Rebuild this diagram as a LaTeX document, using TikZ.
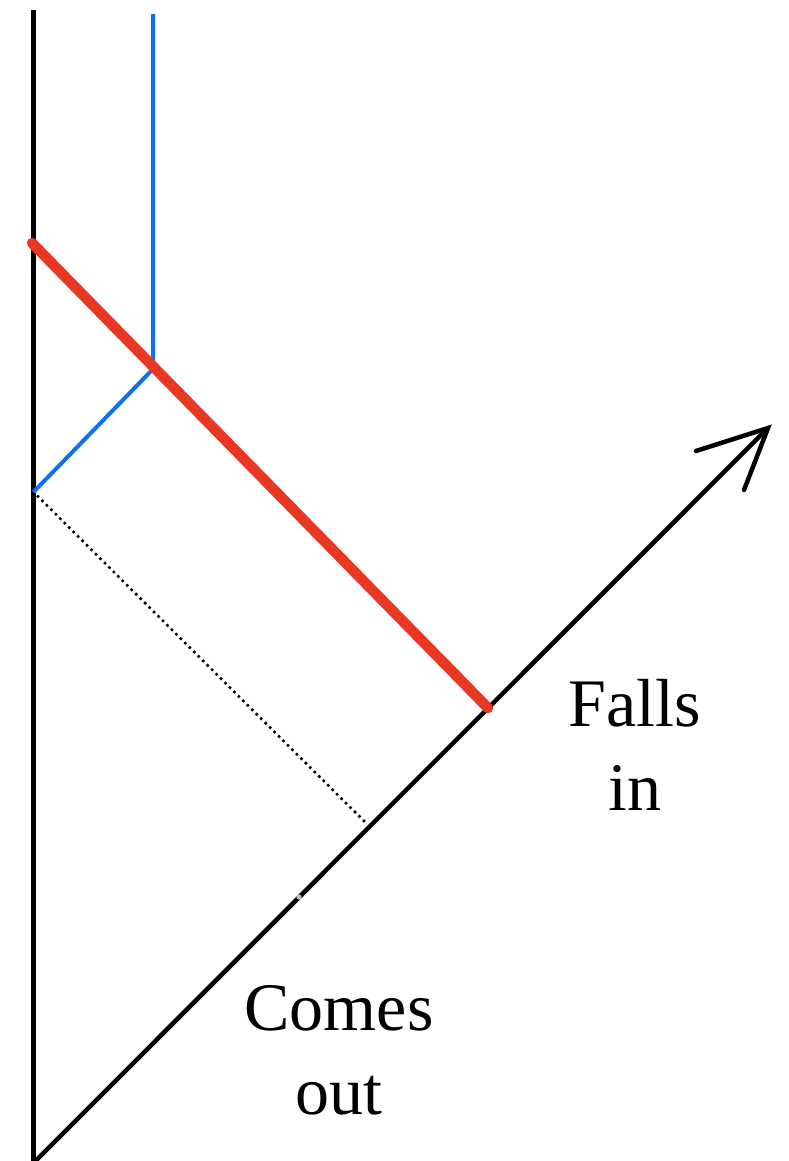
\documentclass[tikz,border=0pt]{standalone}
\usepackage{fontspec}
\setmainfont{Liberation Serif}
\begin{document}
\begin{tikzpicture}[x=1pt,y=-1pt,
  axis/.style={line width=4.5pt,black},
  redline/.style={line width=10.5pt,color={rgb,255:red,232;green,56;blue,36},line cap=round},
  blueline/.style={line width=4pt,color={rgb,255:red,16;green,112;blue,240}},
  dotline/.style={line width=3.6pt,line cap=round,dash pattern=on 0pt off 6.3pt},
  lbl/.style={font=\fontsize{68}{84}\selectfont,align=center,inner sep=0pt}]
\useasboundingbox (0,0) rectangle (788,1161);
\coordinate (top) at (33.5,10);
\coordinate (origin) at (33.5,1163);
\coordinate (tip) at (768,428);
\coordinate (barbA) at (696,451);
\coordinate (barbB) at (744,490);
\coordinate (redL) at (32,243);
\coordinate (redR) at (488,708);
\coordinate (bTop) at (153,14);
\coordinate (bMid) at (153,369);
\coordinate (bLow) at (33.5,492);
\coordinate (dEnd) at (365,822);
\draw[axis] (origin) -- (top);
\draw[axis] (origin) -- (tip);
\draw[axis,line cap=round] (barbA) -- (tip) -- (barbB);
\draw[dotline] (bLow) -- (dEnd);
\draw[blueline,line join=round] (bTop) -- (bMid) -- (bLow);
\draw[redline] (redL) -- (redR);
\fill[gray!50] (299,897) circle (2.6pt);
\node[lbl] (falls) at (635,745) {Falls\\in};
\node[lbl] (comes) at (339,1050) {Comes\\out};
\end{tikzpicture}
\end{document}
